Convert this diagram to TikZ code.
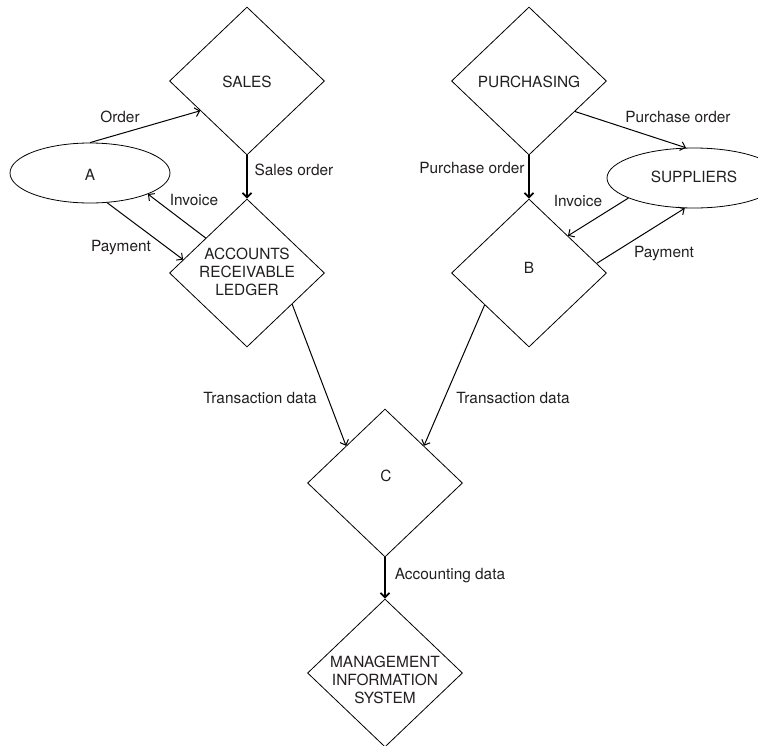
\documentclass[tikz,border=0pt]{standalone}
\usepackage{fontspec}
\setmainfont{TeX Gyre Heros}
\usetikzlibrary{shapes.geometric,arrows.meta,calc}
\definecolor{ink}{HTML}{231F20}
\begin{document}
\begin{tikzpicture}[x=1pt,y=-1pt,
  dia/.style={diamond,draw,minimum width=155pt,minimum height=148pt,inner sep=0pt,line width=0.8pt},
  ell/.style={ellipse,draw,inner sep=0pt,line width=0.8pt},
  txt/.style={font=\fontsize{15.4}{17.7}\selectfont,text=ink,align=center,inner sep=0pt},
  arr/.style={-{Straight Barb[length=4.5pt,width=9pt]},line width=1pt},
  bold arr/.style={-{Straight Barb[length=4.5pt,width=9pt]},line width=1.7pt}]
\useasboundingbox (0,0) rectangle (758,745);
\clip (0,0) rectangle (758,745);
% shapes
\node[dia] (sales) at (247,81) {};
\node[dia] (acc) at (247,273) {};
\node[dia] (purch) at (529,81) {};
\node[dia] (b) at (529,273) {};
\node[dia] (c) at (385,483) {};
\node[dia] (mis) at (385,673) {};
\node[ell,minimum width=160pt,minimum height=60pt] (a) at (90,173) {};
\node[ell,minimum width=174pt,minimum height=60pt] (sup) at (694,178) {};
% shape texts
\node[txt] (salest) at (247,82) {SALES};
\node[txt] (acct) at (247,272) {ACCOUNTS\\RECEIVABLE\\LEDGER};
\node[txt] (purcht) at (529,82) {PURCHASING};
\node[txt] (bt) at (529,268) {B};
\node[txt] (ct) at (386,476) {C};
\node[txt] (mist) at (385,680) {MANAGEMENT\\INFORMATION\\SYSTEM};
\node[txt] (at) at (90,175) {A};
\node[txt] (supt) at (694,177) {SUPPLIERS};
% connectors
\draw[arr] (a.north) -- ($(sales.west)!0.4!(sales.south)$);
\draw[bold arr] (sales.south) -- (acc.north);
\draw[arr] ($(acc.north)!0.53!(acc.west)$) -- (a.-20);
\draw[arr] (a.-60) -- ($(acc.west)!0.18!(acc.north)$);
\draw[arr] ($(purch.east)!0.41!(purch.south)$) -- (sup.105);
\draw[bold arr] (purch.south) -- (b.north);
\draw[arr] (sup.197) -- ($(b.north)!0.5!(b.east)$);
\draw[arr] ($(b.east)!0.13!(b.north)$) -- (sup.253);
\draw[arr] ($(acc.east)!0.42!(acc.south)$) -- ($(c.north)!0.5!(c.west)$);
\draw[arr] ($(b.west)!0.43!(b.south)$) -- ($(c.north)!0.5!(c.east)$);
\draw[bold arr] (c.south) -- (mis.north);
% labels
\node[txt] (l1) at (120,117) {Order};
\node[txt] (l2) at (294,170) {Sales order};
\node[txt] (l3) at (194,200) {Invoice};
\node[txt] (l4) at (121,248) {Payment};
\node[txt] (l5) at (678,117) {Purchase order};
\node[txt] (l6) at (472,168) {Purchase order};
\node[txt] (l7) at (578,201) {Invoice};
\node[txt] (l8) at (664,254) {Payment};
\node[txt] (l9) at (260,398) {Transaction data};
\node[txt] (l10) at (513,398) {Transaction data};
\node[txt] (l11) at (450,576) {Accounting data};
\end{tikzpicture}
\end{document}
